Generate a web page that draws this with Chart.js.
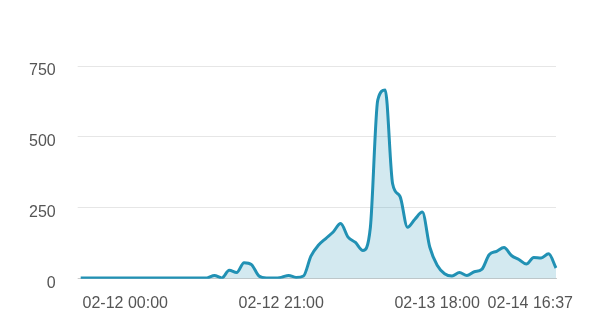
<!DOCTYPE html>
<html>
<head>
<meta charset="utf-8">
<script src="https://cdn.jsdelivr.net/npm/chart.js@4.4.1/dist/chart.umd.min.js"></script>
<style>
  html, body { margin: 0; padding: 0; background: #fff; }
  #wrap { width: 589px; height: 328px; }
</style>
</head>
<body>
<div id="wrap"><canvas id="chart"></canvas></div>
<script>
// Horas (categorías): desde 02-11 18:00, una por hora; la última lectura es 02-14 16:37
const categories = [];
for (let h = 0; h < 64; h++) {
  const d = new Date(Date.UTC(2024, 1, 11, 18 + h));
  const mm = String(d.getUTCMonth() + 1).padStart(2, "0");
  const dd = String(d.getUTCDate()).padStart(2, "0");
  const hh = String(d.getUTCHours()).padStart(2, "0");
  categories.push(`${mm}-${dd} ${hh}:00`);
}
categories.push("02-14 16:37");

// Valores
const values = [
  3, 3, 3, 3, 3, 3, 3, 3, 3, 3,
  3, 3, 3, 3, 3, 3, 3, 3, 12, 3,
  30, 22, 57, 50, 10, 3, 3, 5, 12, 5,
  10, 80, 118, 142, 165, 195, 147, 128, 100, 180,
  630, 665, 335, 290, 182, 210, 235, 112, 48, 18,
  10, 22, 12, 25, 33, 85, 97, 110, 82, 68,
  52, 75, 73, 88, 38
];

// Etiquetas visibles del eje X
const tickLabels = ["02-12 00:00", "02-12 21:00", "02-13 18:00"];
const lastLabel = categories[categories.length - 1];

// Rango del eje Y
const yTicks = [0, 250, 500, 750];

const labelColor = "#555";
const labelFont = { family: "'Liberation Sans', Arial, sans-serif", size: 16 };

// La última etiqueta se ajusta dentro del lienzo
const lastTickPlugin = {
  id: "lastTick",
  afterDraw(chart) {
    const xs = chart.scales.x;
    const ctx = chart.ctx;
    ctx.save();
    ctx.font = `${labelFont.size}px ${labelFont.family}`;
    ctx.fillStyle = labelColor;
    ctx.textAlign = "right";
    ctx.textBaseline = "middle";
    ctx.fillText(lastLabel, chart.width - 16, xs.top + 15 + 9.6);
    ctx.restore();
  },
};

new Chart(document.getElementById("chart"), {
  type: "line",
  data: {
    labels: categories,
    datasets: [
      {
        data: values,
        borderColor: "#2191b4",
        backgroundColor: "rgba(33,145,180,0.2)",
        borderWidth: 3,
        fill: "origin",
        pointRadius: 0,
        cubicInterpolationMode: "monotone",
      },
    ],
  },
  options: {
    responsive: true,
    maintainAspectRatio: false,
    animation: false,
    // el eje reserva el doble del padding de las marcas
    layout: { padding: { left: 7, right: 33, top: 66, bottom: 0 } },
    plugins: { legend: { display: false }, tooltip: { enabled: false } },
    scales: {
      x: {
        grid: { display: false, drawTicks: false },
        border: { display: true, color: "#ccc", width: 1 },
        ticks: {
          autoSkip: false,
          maxRotation: 0,
          padding: 15,
          color: labelColor,
          font: labelFont,
          callback: (v, i) => (tickLabels.includes(categories[i]) ? categories[i] : ""),
        },
      },
      y: {
        min: yTicks[0],
        max: yTicks[yTicks.length - 1],
        border: { display: false },
        grid: {
          color: (c) => (c.tick && c.tick.value === 0 ? "#ccc" : "#e6e6e6"),
          tickLength: 3,
        },
        ticks: {
          stepSize: 250,
          padding: 22,
          labelOffset: 5,
          color: labelColor,
          font: labelFont,
        },
      },
    },
  },
  plugins: [lastTickPlugin],
});
</script>
</body>
</html>
